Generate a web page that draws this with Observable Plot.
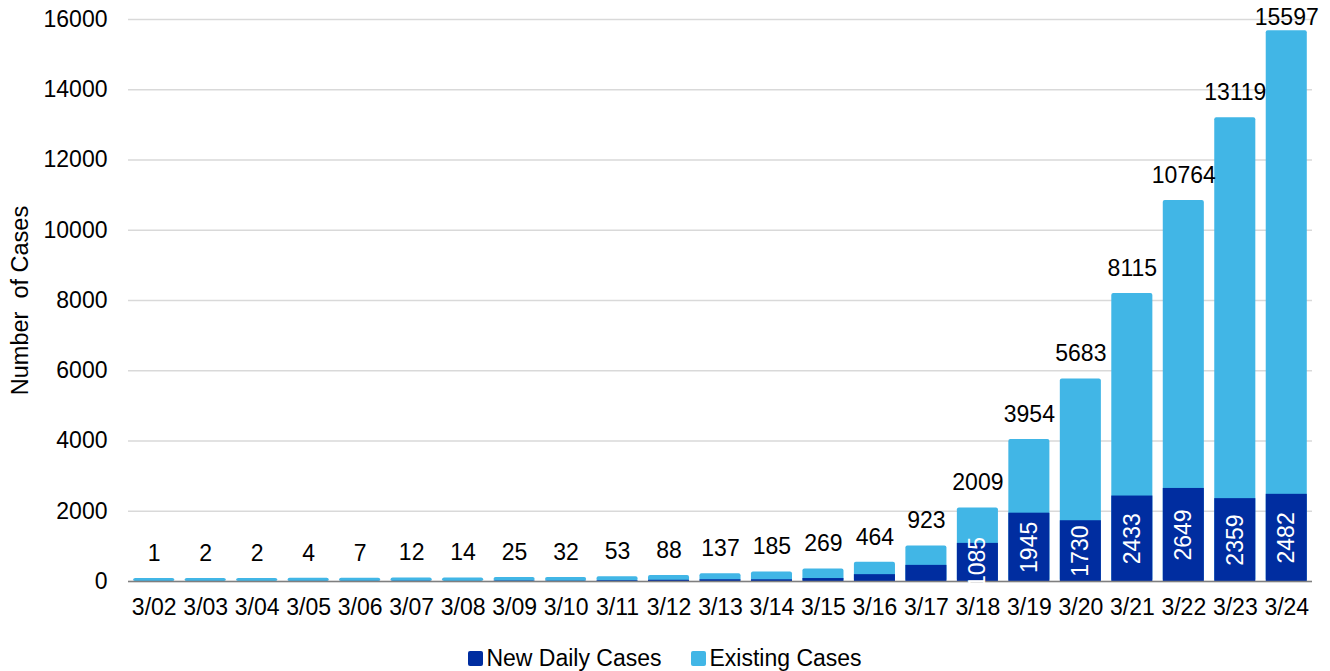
<!DOCTYPE html>
<html>
<head>
<meta charset="utf-8">
<script src="https://cdn.jsdelivr.net/npm/d3@7"></script>
<script src="https://cdn.jsdelivr.net/npm/@observablehq/plot@0.6"></script>
<style>
  body { margin: 0; background: #fff; font-family: "Liberation Sans", Arial, sans-serif; }
  #chart svg { display: block; }
  .legend { display: flex; justify-content: center; align-items: center; gap: 30px; height: 30px; margin-top: 8px; font-size: 23px; color: #000; }
  .legend span.item { display: flex; align-items: center; gap: 3px; }
  .legend i { display: inline-block; width: 15px; height: 15px; border-radius: 2px; }
</style>
</head>
<body>
<div id="chart"></div>
<div class="legend">
  <span class="item"><i style="background:#002DA0"></i>New Daily Cases</span>
  <span class="item"><i style="background:#41B6E6"></i>Existing Cases</span>
</div>
<script>
// Daily report dates (March)
const dates = ["3/02","3/03","3/04","3/05","3/06","3/07","3/08","3/09","3/10","3/11","3/12","3/13",
               "3/14","3/15","3/16","3/17","3/18","3/19","3/20","3/21","3/22","3/23","3/24"];
// Cumulative case count on each date
const totals = [1, 2, 2, 4, 7, 12, 14, 25, 32, 53, 88, 137, 185, 269, 464, 923, 2009, 3954, 5683, 8115, 10764, 13119, 15597];
// Cases newly reported on each date
const newCases = [1, 1, 0, 2, 3, 5, 2, 11, 7, 21, 35, 49, 48, 84, 195, 459, 1085, 1945, 1730, 2433, 2649, 2359, 2482];
// New-case counts are printed inside the bar from this date onward
const firstLabelledDate = "3/18";
const yTicks = [0, 2000, 4000, 6000, 8000, 10000, 12000, 14000, 16000];

const darkBlue = "#002DA0";
const lightBlue = "#41B6E6";

const rows = dates.map((d, i) => ({date: d, total: totals[i], fresh: newCases[i], idx: i}));
const labelStart = dates.indexOf(firstLabelledDate);
const inBar = rows.filter(r => r.idx >= labelStart);
// keep the tallest total label inside the chart area
const labelCeiling = 15250;

const chart = Plot.plot({
  width: 1330,
  height: 635,
  marginLeft: 128,
  marginRight: 18,
  marginTop: 19,
  marginBottom: 54,
  style: {fontFamily: "'Liberation Sans', Arial, sans-serif", fontSize: "23px", color: "#000", background: "#fff"},
  x: {domain: dates, paddingInner: 0.28, paddingOuter: 0.14, round: false, label: null},
  y: {domain: [0, 16000], label: null},
  marks: [
    Plot.gridY(yTicks, {stroke: "#d9d9d9", strokeOpacity: 1, strokeWidth: 1.3}),
    Plot.axisY(yTicks, {tickSize: 0, tickPadding: 21, tickFormat: d => String(d), fontSize: 23, label: null}),
    Plot.axisX({tickSize: 0, tickPadding: 17, fontSize: 23, label: null}),
    Plot.text(["Number  of Cases"], {frameAnchor: "left", textAnchor: "middle", dx: -108, rotate: -90, text: d => d, fontSize: 23.5, fill: "#000"}),
    Plot.barY(rows, {x: "date", y: "total", fill: lightBlue, insetTop: -3, insetLeft: -2, insetRight: -2, rx: 2}),
    Plot.barY(rows, {x: "date", y: "fresh", fill: darkBlue, insetLeft: -2, insetRight: -2}),
    Plot.ruleY([0], {stroke: "#7f7f7f", strokeWidth: 1.5}),
    Plot.text(inBar, {x: "date", y: d => d.fresh / 2, text: d => String(d.fresh), rotate: -90, fill: "#fff", fontSize: 23}),
    Plot.text(rows, {x: "date", y: d => Math.min(d.total, labelCeiling), text: d => String(d.total), dy: -28, fill: "#000", fontSize: 23})
  ]
});
document.getElementById("chart").appendChild(chart);
</script>
</body>
</html>
